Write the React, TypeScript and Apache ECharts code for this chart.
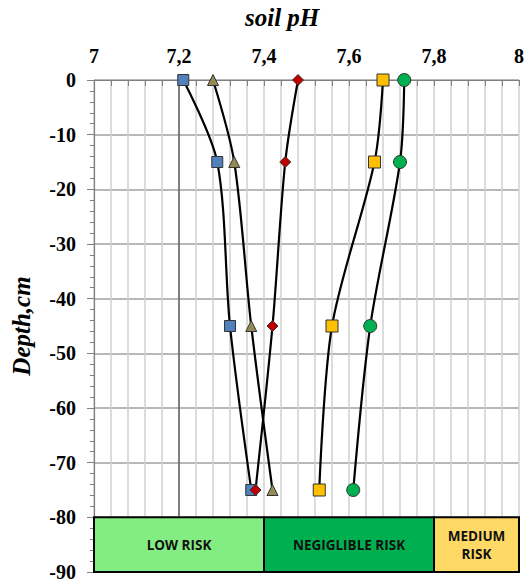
import React, { useEffect, useRef } from "react";
import * as echarts from "echarts";

// Sampling depths (cm, negative downward)
const depths = [0, -15, -45, -75];

// Soil pH profiles, one value per depth
const phBlue = [7.21, 7.29, 7.32, 7.37];
const phOlive = [7.28, 7.33, 7.37, 7.42];
const phRed = [7.48, 7.45, 7.42, 7.38];
const phYellow = [7.68, 7.66, 7.56, 7.53];
const phGreen = [7.73, 7.72, 7.65, 7.61];

// Risk zones along the pH axis
const riskNames = ["LOW RISK", "NEGIGLIBLE RISK", "MEDIUM\nRISK"];
const riskFrom = [7.0, 7.4, 7.8];
const riskTo = [7.4, 7.8, 8.0];
const riskDepthTop = -80;
const riskDepthBottom = -90;

// Reference pH line
const refPh = 7.2;

const SERIF = "'Liberation Serif', 'DejaVu Serif', serif";
const SANS = "'Open Sans', 'Noto Sans', sans-serif";

const riskColors = ["#83ED83", "#00B050", "#FFD966"];

function profile(ph: number[]) {
  return ph.map((v, i) => [v, depths[i]]);
}

export default function App() {
  const ref = useRef<HTMLDivElement>(null);

  useEffect(() => {
    if (!ref.current) return;
    const chart = echarts.init(ref.current, null, { renderer: "svg" });

    const lineStyle = { color: "#000", width: 2.2 };
    const markerBorder = { borderColor: "#333", borderWidth: 1 };

    const mk = (ph: number[], symbol: string, size: number, color: string) => ({
      type: "line",
      data: profile(ph),
      smooth: 0.3,
      symbol,
      symbolSize: size,
      showAllSymbol: true,
      lineStyle,
      itemStyle: { color, ...markerBorder },
      z: 5,
    });

    const fmt = (v: number) => {
      const r = Number(v.toFixed(1));
      return String(r).replace(".", ",");
    };

    chart.setOption({
      animation: false,
      backgroundColor: "#fff",
      title: {
        text: "soil pH",
        left: 240,
        top: 0,
        textStyle: {
          fontFamily: SERIF,
          fontSize: 25,
          fontWeight: "bold",
          fontStyle: "italic",
          color: "#000",
        },
      },
      grid: { left: 94, right: 10, top: 80, bottom: 10 },
      xAxis: {
        type: "value",
        position: "top",
        min: 7,
        max: 8,
        interval: 0.2,
        axisLine: { show: true, onZero: false, lineStyle: { color: "#808080", width: 1.2 } },
        axisTick: { show: true, inside: true, length: 6, lineStyle: { color: "#808080" } },
        minorTick: { show: true, splitNumber: 5, length: 6, lineStyle: { color: "#808080" } },
        splitLine: { show: true, lineStyle: { color: "#d0d0d0", width: 1.5 } },
        minorSplitLine: { show: true, lineStyle: { color: "#d0d0d0", width: 1.5 } },
        axisLabel: {
          formatter: fmt,
          margin: 14,
          fontFamily: SERIF,
          fontSize: 20,
          fontWeight: "bold",
          color: "#000",
        },
      },
      yAxis: {
        type: "value",
        min: -90,
        max: 0,
        interval: 10,
        name: "Depth,cm",
        nameLocation: "middle",
        nameGap: 60,
        nameTextStyle: {
          fontFamily: SERIF,
          fontSize: 25,
          fontWeight: "bold",
          fontStyle: "italic",
          color: "#000",
        },
        axisLine: { show: true, onZero: false, lineStyle: { color: "#808080", width: 1.2 } },
        axisTick: { show: true, length: 7, lineStyle: { color: "#808080" } },
        minorTick: { show: true, splitNumber: 5, length: 4, lineStyle: { color: "#808080" } },
        splitLine: { show: true, lineStyle: { color: "#a0a0a0", width: 1.5 } },
        axisLabel: {
          margin: 18,
          fontFamily: SERIF,
          fontSize: 20,
          fontWeight: "bold",
          color: "#000",
        },
      },
      series: [
        {
          type: "line",
          data: [
            [refPh, 0],
            [refPh, riskDepthTop],
          ],
          symbol: "none",
          lineStyle: { color: "#222", width: 1 },
          z: 3,
          silent: true,
          markArea: {
            silent: true,
            itemStyle: { borderColor: "#000", borderWidth: 2 },
            label: {
              show: true,
              position: "inside",
              color: "#111",
              fontFamily: SANS,
              fontSize: 13.5,
              fontWeight: "bold",
              lineHeight: 18,
            },
            data: riskNames.map((name, i) => [
              {
                name,
                xAxis: riskFrom[i],
                yAxis: riskDepthTop,
                itemStyle: { color: riskColors[i], opacity: 1 },
              },
              { xAxis: riskTo[i], yAxis: riskDepthBottom },
            ]),
          },
        },
        mk(phBlue, "rect", 11, "#4F81BD"),
        mk(phOlive, "triangle", 11, "#948A54"),
        mk(phRed, "diamond", 11, "#C00000"),
        mk(phYellow, "rect", 12, "#FFC000"),
        mk(phGreen, "circle", 13, "#00B050"),
      ],
    });

    return () => chart.dispose();
  }, []);

  return (
    <div
      ref={ref}
      style={{ position: "fixed", left: 0, top: 0, width: 529, height: 582 }}
    />
  );
}
